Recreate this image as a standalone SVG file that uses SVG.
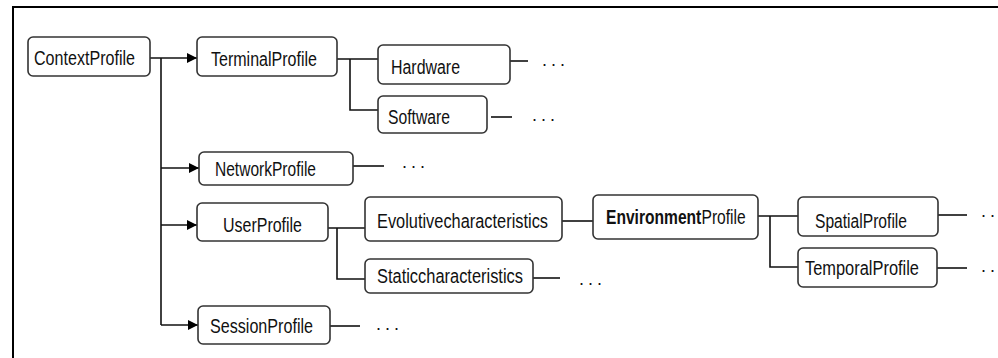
<svg xmlns="http://www.w3.org/2000/svg" width="998" height="358" viewBox="0 0 998 358">
  <defs>
    <marker id="arrow" viewBox="0 0 10 10" refX="10" refY="5" markerWidth="10" markerHeight="10" markerUnits="userSpaceOnUse" orient="auto">
      <path d="M0,0 L10,5 L0,10 Z" fill="#000"/>
    </marker>
    <style>
      .box { fill: #fff; stroke: #333; stroke-width: 1.6; }
      .lbl { font-family: "Liberation Sans", Arial, sans-serif; font-size: 20px; fill: #111; }
      .dots { font-family: "Liberation Sans", Arial, sans-serif; font-size: 18px; fill: #111; letter-spacing: 4px; }
      .wire { fill: none; stroke: #111; stroke-width: 1.6; }
      .frame { fill: none; stroke: #000; stroke-width: 2; }
    </style>
  </defs>

  <rect width="998" height="358" fill="#fff"/>
  <path class="frame" d="M13,358 V7 H998"/>

  <!-- connectors -->
  <g id="connectors">
    <path class="wire" d="M161,58 V325"/>
    <path class="wire" d="M150,58 H197" marker-end="url(#arrow)"/>
    <path class="wire" d="M161,168 H199" marker-end="url(#arrow)"/>
    <path class="wire" d="M161,225 H197" marker-end="url(#arrow)"/>
    <path class="wire" d="M161,325 H198" marker-end="url(#arrow)"/>
    <path class="wire" d="M337,59 H378 M350,59 V110 H378"/>
    <path class="wire" d="M510,61 H528"/>
    <path class="wire" d="M491,117 H512"/>
    <path class="wire" d="M353,166 H384"/>
    <path class="wire" d="M328,228 H365 M337,228 V279 H365"/>
    <path class="wire" d="M533,278 H560"/>
    <path class="wire" d="M562,221 H593"/>
    <path class="wire" d="M758,216 H798 M770,216 V267 H798"/>
    <path class="wire" d="M938,215 H967"/>
    <path class="wire" d="M937,268 H967"/>
    <path class="wire" d="M330,326 H360"/>
  </g>

  <g id="ContextProfile">
    <rect class="box" x="28" y="37" width="122" height="39" rx="5"/>
    <text class="lbl" x="34" y="65" textLength="101" lengthAdjust="spacingAndGlyphs">ContextProfile</text>
  </g>
  <g id="TerminalProfile">
    <rect class="box" x="197" y="37" width="140" height="39" rx="5"/>
    <text class="lbl" x="211" y="66" textLength="106" lengthAdjust="spacingAndGlyphs">TerminalProfile</text>
  </g>
  <g id="NetworkProfile">
    <rect class="box" x="199" y="152" width="154" height="33" rx="5"/>
    <text class="lbl" x="215" y="176" textLength="101" lengthAdjust="spacingAndGlyphs">NetworkProfile</text>
  </g>
  <g id="UserProfile">
    <rect class="box" x="197" y="203" width="131" height="38" rx="5"/>
    <text class="lbl" x="223" y="232" textLength="79" lengthAdjust="spacingAndGlyphs">UserProfile</text>
  </g>
  <g id="SessionProfile">
    <rect class="box" x="198" y="306" width="132" height="38" rx="5"/>
    <text class="lbl" x="210" y="333" textLength="103" lengthAdjust="spacingAndGlyphs">SessionProfile</text>
  </g>
  <g id="Hardware">
    <rect class="box" x="378" y="45" width="132" height="39" rx="5"/>
    <text class="lbl" x="391" y="74" textLength="69" lengthAdjust="spacingAndGlyphs">Hardware</text>
  </g>
  <g id="Software">
    <rect class="box" x="378" y="96" width="109" height="37" rx="5"/>
    <text class="lbl" x="388" y="124" textLength="62" lengthAdjust="spacingAndGlyphs">Software</text>
  </g>
  <g id="Evolutivecharacteristics">
    <rect class="box" x="365" y="197" width="197" height="44" rx="5"/>
    <text class="lbl" x="377" y="228" textLength="171" lengthAdjust="spacingAndGlyphs">Evolutivecharacteristics</text>
  </g>
  <g id="Staticcharacteristics">
    <rect class="box" x="365" y="259" width="168" height="34" rx="5"/>
    <text class="lbl" x="377" y="283" textLength="146" lengthAdjust="spacingAndGlyphs">Staticcharacteristics</text>
  </g>
  <g id="EnvironmentProfile">
    <rect class="box" x="593" y="195" width="165" height="44" rx="5"/>
    <!-- bold and regular halves, narrowed horizontally -->
    <text class="lbl" font-weight="bold" transform="translate(606,224) scale(0.78,1)">Environment</text>
    <text class="lbl" transform="translate(701.5,224) scale(0.78,1)">Profile</text>
  </g>
  <g id="SpatialProfile">
    <rect class="box" x="798" y="197" width="140" height="39" rx="5"/>
    <text class="lbl" x="815" y="228" textLength="92" lengthAdjust="spacingAndGlyphs">SpatialProfile</text>
  </g>
  <g id="TemporalProfile">
    <rect class="box" x="798" y="248" width="139" height="39" rx="5"/>
    <text class="lbl" x="805" y="275" textLength="114" lengthAdjust="spacingAndGlyphs">TemporalProfile</text>
  </g>

  <!-- continuation marks -->
  <g id="continuations">
    <text class="dots" x="542" y="66">...</text>
    <text class="dots" x="532" y="121">...</text>
    <text class="dots" x="402" y="168">...</text>
    <text class="dots" x="579" y="285">...</text>
    <text class="dots" x="376" y="330">...</text>
    <text class="dots" x="981" y="217">..</text>
    <text class="dots" x="981" y="272">..</text>
  </g>
</svg>
